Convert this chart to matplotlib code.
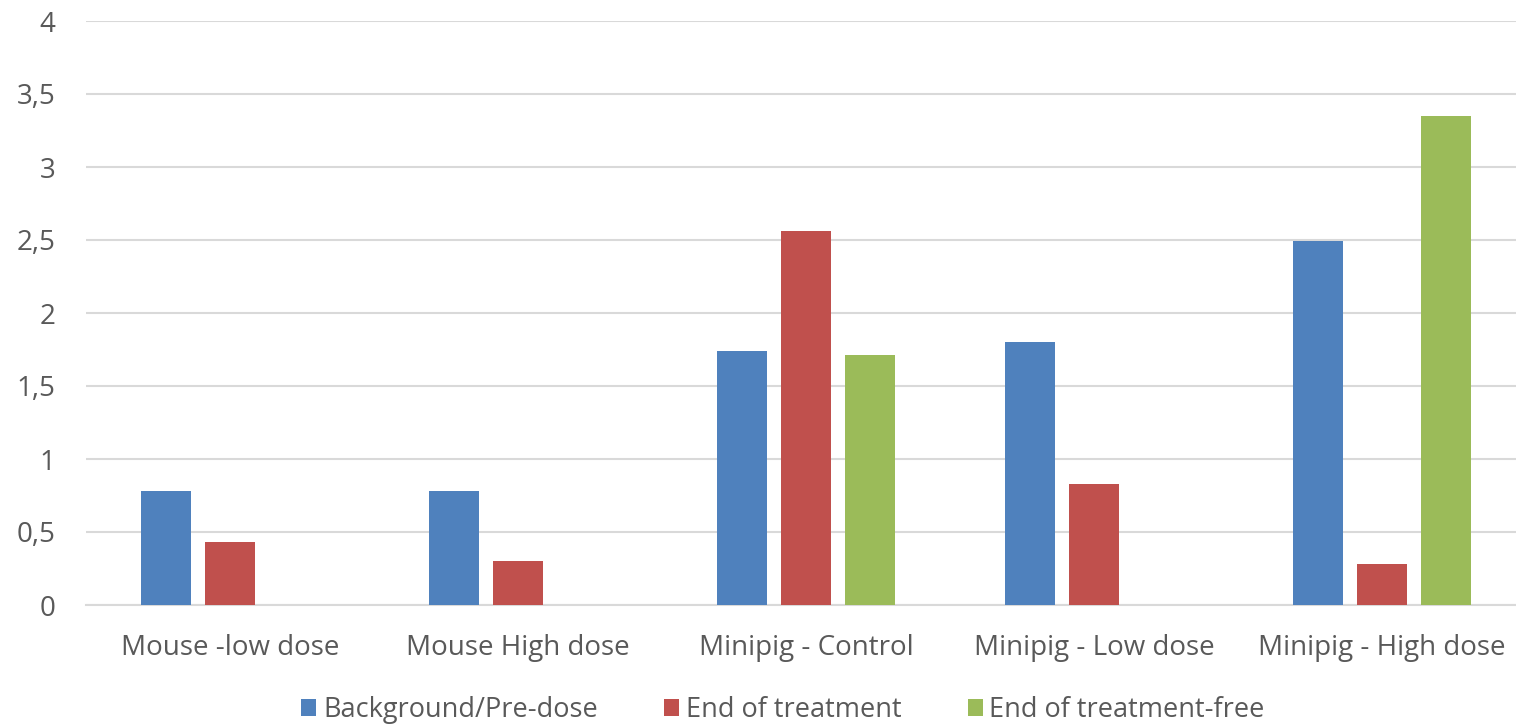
import matplotlib
matplotlib.use("Agg")
import matplotlib.pyplot as plt
import numpy as np

categories = ["Mouse -low dose", "Mouse High dose", "Minipig - Control", "Minipig - Low dose", "Minipig - High dose"]
series_names = ["Background/Pre-dose", "End of treatment", "End of treatment-free"]
background = [0.78, 0.78, 1.74, 1.80, 2.49]
end_treatment = [0.43, 0.30, 2.56, 0.83, 0.28]
end_free = [0, 0, 1.71, 0, 3.35]
colors = ["#4F81BD", "#C0504D", "#9BBB59"]
yticks = [0, 0.5, 1, 1.5, 2, 2.5, 3, 3.5, 4]

plt.rcParams['font.family'] = ['Open Sans', 'DejaVu Sans']
W, H = 1516, 725
fig = plt.figure(figsize=(W/100, H/100), dpi=100)
ax = fig.add_axes([86/W, 120/H, (W-86)/W, 584/H])

x = np.arange(len(categories))
off = 64/288
bw = 50/288
for i, (vals, name) in enumerate(zip([background, end_treatment, end_free], series_names)):
    ax.bar(x + (i-1)*off, vals, bw, color=colors[i], label=name, zorder=3)

ax.set_xlim(-0.5, 4.5 - 10/288)
ax.set_ylim(0, 4)
ax.set_yticks(yticks)
ax.set_yticklabels([("%g" % t).replace(".", ",") for t in yticks])
ax.yaxis.grid(True, color="#D9D9D9", linewidth=1.5, zorder=0)
for s in ["top", "right", "left"]:
    ax.spines[s].set_visible(False)
ax.spines["bottom"].set_color("#D9D9D9")
ax.spines["bottom"].set_linewidth(1.5)
ax.set_xticks(x)
ax.set_xticklabels(categories)
ax.tick_params(axis="both", length=0, labelsize=20, labelcolor="#595959")
ax.tick_params(axis="y", pad=22)
ax.tick_params(axis="x", pad=21)

leg = fig.legend(loc="center", bbox_to_anchor=(783/W, 1-710/H), ncol=3, frameon=False,
                 fontsize=19.5, handlelength=0.55, handleheight=0.55, handletextpad=0.25,
                 columnspacing=2.45, labelcolor="#595959")
fig.savefig("out.png", dpi=100)
